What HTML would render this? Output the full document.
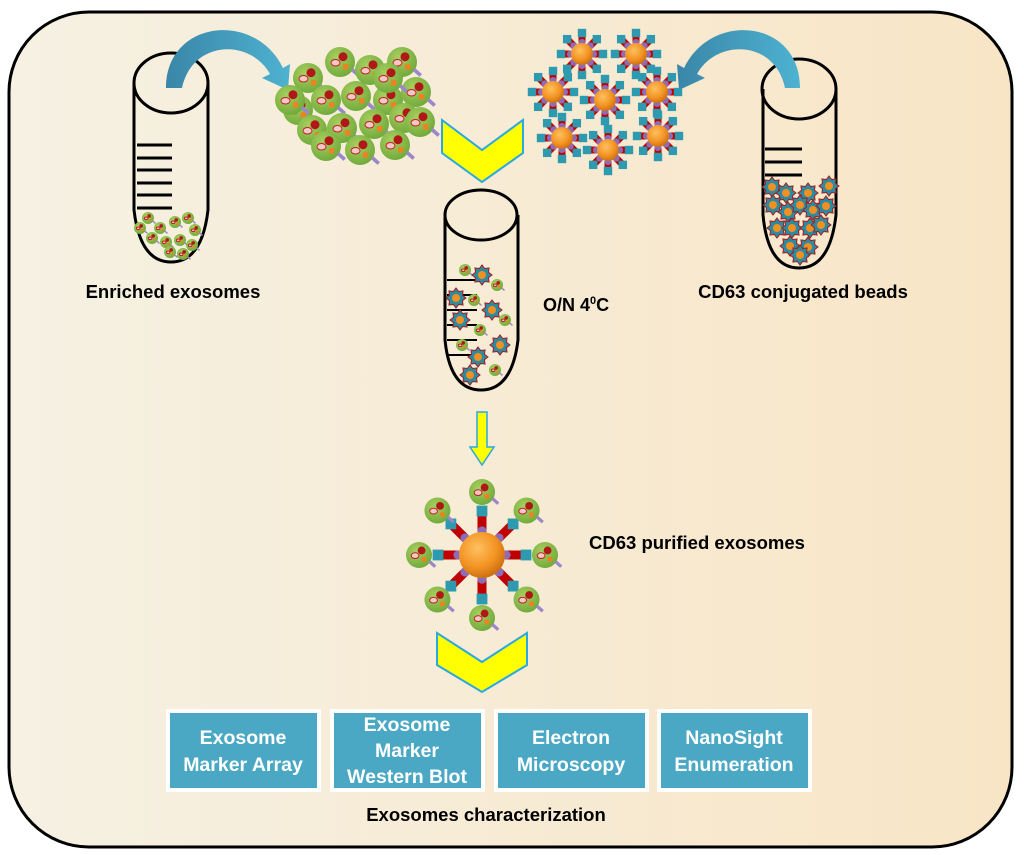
<!DOCTYPE html>
<html><head><meta charset="utf-8"><style>
html,body{margin:0;padding:0;width:1024px;height:855px;overflow:hidden;background:#fff}
svg{display:block}
text{font-family:"Liberation Sans",sans-serif;font-weight:bold}
</style></head><body>
<svg id="s" width="1024" height="855" viewBox="0 0 1024 855" xmlns="http://www.w3.org/2000/svg">
<defs>
<linearGradient id="bg" x1="0" x2="1" y1="0" y2="0"><stop offset="0" stop-color="#f6f1e3"/><stop offset="1" stop-color="#f8e5c6"/></linearGradient>
<radialGradient id="or" cx="0.4" cy="0.35" r="0.7"><stop offset="0" stop-color="#ffc060"/><stop offset="0.6" stop-color="#f29322"/><stop offset="1" stop-color="#c86a10"/></radialGradient>
<radialGradient id="gr" cx="0.4" cy="0.35" r="0.7"><stop offset="0" stop-color="#a8d060"/><stop offset="1" stop-color="#6ea83a"/></radialGradient>
<linearGradient id="bl" x1="0" x2="1"><stop offset="0" stop-color="#3a86a8"/><stop offset="1" stop-color="#4eb2d0"/></linearGradient>
</defs>
<rect x="9" y="12" width="1003" height="835" rx="80" fill="url(#bg)" stroke="#000" stroke-width="3"/>
<g id="tubes" fill="none" stroke="#000" stroke-width="3">
<path d="M134,83 V210 Q140,262 171,262 Q202,262 208,210 V83"/>
<ellipse cx="171" cy="83" rx="37" ry="30"/>
<path d="M445,215 V340 Q450,390 481,390 Q512,390 518,340 V215"/>
<ellipse cx="481" cy="215" rx="36" ry="25"/>
<path d="M763,89 V215 Q768,268 799,268 Q830,268 836,215 V89"/>
<ellipse cx="799" cy="89" rx="37" ry="30"/>
<path d="M137,145h35M137,158h35M137,170h35M137,183h35M137,195h35M137,208h35"/>
<path d="M765,149h37M765,162h37M765,175h37"/>
<path d="M447,280h30M447,295h30M447,310h30M447,325h30M447,340h30M447,355h30" stroke-width="2"/>
</g>
<path d="M166,88 C166,20 255,10 283,68 L290,64 L288,90 L262,78 L270,74 C250,38 192,40 182,88 Z" fill="url(#bl)"/>
<path d="M800,88 C800,20 712,10 684,68 L677,64 L679,90 L705,78 L697,74 C717,38 775,40 785,88 Z" fill="url(#bl)"/>
<polygon points="442,120 482,150 523,120 523,153 482,182 442,153" fill="#ffff00" stroke="#2aa8e0" stroke-width="2"/>
<polygon points="437,633 482,662 527,633 527,665 482,692 437,665" fill="#ffff00" stroke="#2aa8e0" stroke-width="2"/>
<polygon points="477,412 487,412 487,447 494,447 482,465 470,447 477,447" fill="#ffff00" stroke="#2aa8e0" stroke-width="1.5"/>
<g id="dyn"></g>
<text x="173" y="298" font-size="18.5" text-anchor="middle">Enriched exosomes</text>
<text x="803" y="298" font-size="18.5" text-anchor="middle">CD63 conjugated beads</text>
<text x="543" y="311" font-size="18">O/N 4<tspan font-size="11" dy="-7">0</tspan><tspan dy="7">C</tspan></text>
<text x="589" y="549" font-size="18.5">CD63 purified exosomes</text>
<text x="486" y="821" font-size="18.5" text-anchor="middle">Exosomes characterization</text>
<g fill="#4aa8c4" stroke="#fff" stroke-width="4">
<rect x="168" y="711" width="151" height="79"/>
<rect x="332" y="711" width="151" height="79"/>
<rect x="496" y="711" width="151" height="79"/>
<rect x="659" y="711" width="151" height="79"/>
</g>
<g fill="#fff" font-size="19.5" text-anchor="middle">
<text x="243" y="744">Exosome</text>
<text x="243" y="771">Marker Array</text>
<text x="407" y="731">Exosome</text>
<text x="407" y="757">Marker</text>
<text x="407" y="783">Western Blot</text>
<text x="571" y="744">Electron</text>
<text x="571" y="771">Microscopy</text>
<text x="734" y="744">NanoSight</text>
<text x="734" y="771">Enumeration</text>
</g>
</svg>
<script>
var g=document.getElementById('dyn'),h='';
function exo(x,y,r){r=r||14;
 h+='<circle cx="'+x+'" cy="'+y+'" r="'+r+'" fill="url(#gr)"/>';
 h+='<circle cx="'+(x+r*0.2)+'" cy="'+(y-r*0.35)+'" r="'+r*0.3+'" fill="#b01818"/>';
 h+='<ellipse cx="'+(x-r*0.3)+'" cy="'+(y+r*0.05)+'" rx="'+r*0.3+'" ry="'+r*0.22+'" fill="#f4c8c8" stroke="#c02020"/>';
 h+='<rect x="'+(x+r*0.2)+'" y="'+(y+r*0.15)+'" width="'+r*0.35+'" height="'+r*0.35+'" fill="#f08020"/>';
 h+='<line x1="'+(x+r*0.8)+'" y1="'+(y+r*0.5)+'" x2="'+(x+r*1.25)+'" y2="'+(y+r*0.9)+'" stroke="#9a88c8" stroke-width="'+r*0.25+'"/>';
}
function bead(x,y,R,sp,w){w=w||R*0.45;
 for(var i=0;i<8;i++){var a=i*Math.PI/4,c=Math.cos(a),s=Math.sin(a);
  h+='<line x1="'+(x+c*R)+'" y1="'+(y+s*R)+'" x2="'+(x+c*sp)+'" y2="'+(y+s*sp)+'" stroke="#c00000" stroke-width="'+w+'"/>';
  h+='<circle cx="'+(x+c*R*1.05)+'" cy="'+(y+s*R*1.05)+'" r="'+w*0.5+'" fill="#8c6cb8"/>';
  h+='<rect x="'+(x+c*sp-w*0.6)+'" y="'+(y+s*sp-w*0.6)+'" width="'+w*1.2+'" height="'+w*1.2+'" fill="#2d9ab0"/>';}
 h+='<circle cx="'+x+'" cy="'+y+'" r="'+R+'" fill="url(#or)"/>';
}
function star(x,y){h+='<polygon points="';for(var i=0;i<16;i++){var r=i%2?7:10,a=i*Math.PI/8;h+=(x+r*Math.cos(a))+','+(y+r*Math.sin(a))+' ';}
 h+='" fill="#2d8aa0" stroke="#a02020"/><circle cx="'+x+'" cy="'+y+'" r="4" fill="#f09020"/>';}
[[308,78],[340,62],[370,70],[402,62],[298,110],[326,100],[356,96],[388,100],[416,92],[312,130],[342,128],[374,124],[404,118],[420,122],[326,146],[360,150],[395,145],[290,100],[388,78]].forEach(function(p){exo(p[0],p[1],15)});
[[148,218],[160,228],[175,222],[188,218],[195,230],[152,238],[166,242],[180,240],[192,245],[170,252],[183,254],[140,228]].forEach(function(p){exo(p[0],p[1],6)});
[[582,54],[636,54],[553,92],[605,100],[657,92],[562,138],[608,150],[658,136]].forEach(function(p){bead(p[0],p[1],11,21,7)});
[[772,187],[786,193],[808,193],[829,186],[773,205],[788,212],[800,205],[813,210],[826,206],[777,228],[792,228],[810,228],[821,225],[790,246],[808,247],[800,255]].forEach(function(p){star(p[0],p[1])});
[[465,270],[482,275],[497,285],[456,298],[474,300],[492,310],[505,320],[460,320],[480,330],[500,345],[462,345],[478,357],[495,370],[470,375]].forEach(function(p,i){if(i%2)star(p[0],p[1]);else exo(p[0],p[1],6)});
bead(482,555,23,44,9);
for(var i=0;i<8;i++){var a=i*Math.PI/4-Math.PI/2;exo(482+Math.cos(a)*63,555+Math.sin(a)*63,13);}
g.innerHTML=h;
</script>
</body></html>
